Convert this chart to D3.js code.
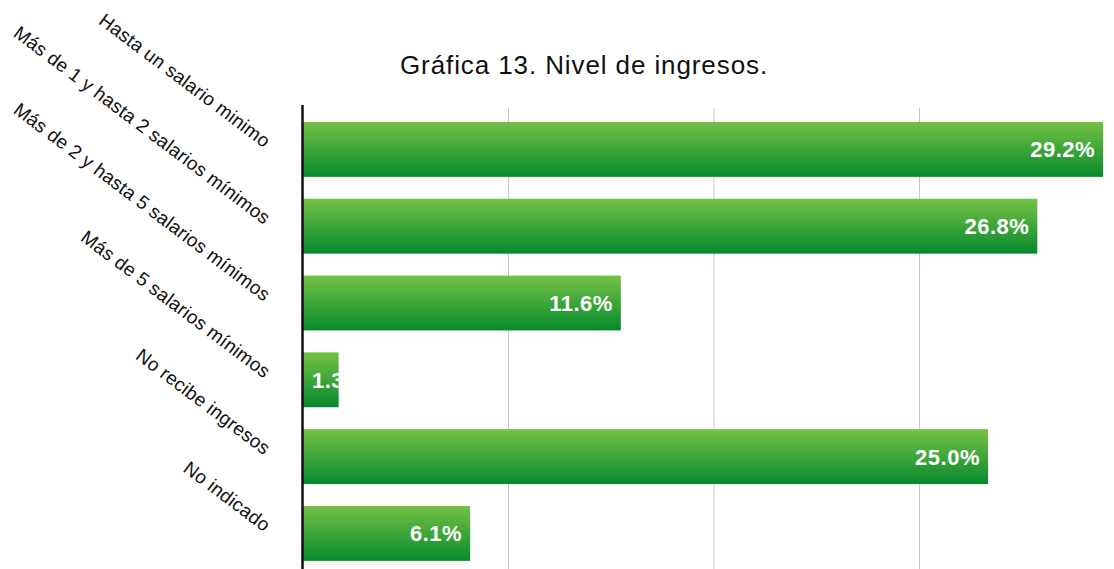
<!DOCTYPE html>
<html>
<head>
<meta charset="utf-8">
<script src="https://cdn.jsdelivr.net/npm/d3@7"></script>
<style>
  body { margin: 0; background: #fff; }
  svg { display: block; font-family: "Liberation Sans", Arial, sans-serif; }
</style>
</head>
<body>
<div id="chart"></div>
<script>
// --- données ---
const categories = [
  "Hasta un salario minimo",
  "Más de 1 y hasta 2 salarios mínimos",
  "Más de 2 y hasta 5 salarios mínimos",
  "Más de 5 salarios mínimos",
  "No recibe ingresos",
  "No indicado"
];
const values = [29.2, 26.8, 11.6, 1.3, 25.0, 6.1];
const gridTicks = [7.5, 15, 22.5];
const title = "Gráfica 13. Nivel de ingresos.";

const width = 1114, height = 569;

const svg = d3.select("#chart")
  .append("svg")
  .attr("width", width)
  .attr("height", height);

// dégradé vert des barres
const grad = svg.append("defs").append("linearGradient")
  .attr("id", "barGrad")
  .attr("x1", 0).attr("y1", 0).attr("x2", 0).attr("y2", 1);
grad.append("stop").attr("offset", "0%").attr("stop-color", "#75c145");
grad.append("stop").attr("offset", "100%").attr("stop-color", "#068a2d");

const x = d3.scaleLinear().domain([0, 30]).range([303, 303 + 30 * 27.4]);
const y = d3.scaleBand()
  .domain(categories)
  .range([111, 111 + 6 * 76.8])
  .paddingInner(0.285)
  .paddingOuter(0.1425);

// titre
svg.append("text")
  .attr("x", 584)
  .attr("y", 74)
  .attr("text-anchor", "middle")
  .style("font-size", "26px")
  .style("letter-spacing", "0.9px")
  .style("fill", "#111")
  .text(title);

// grille
svg.selectAll(".grid")
  .data(gridTicks)
  .enter()
  .append("line")
  .attr("x1", d => x(d)).attr("x2", d => x(d))
  .attr("y1", 108).attr("y2", height)
  .style("stroke", "#c8c8c8")
  .style("stroke-width", 1);

// barres
const bars = svg.selectAll(".bar")
  .data(values)
  .enter()
  .append("g")
  .attr("class", "bar");

bars.append("clipPath")
  .attr("id", (d, i) => "clip" + i)
  .append("rect")
  .attr("x", x(0))
  .attr("y", (d, i) => y(categories[i]))
  .attr("width", d => x(d) - x(0))
  .attr("height", y.bandwidth());

bars.append("rect")
  .attr("x", x(0))
  .attr("y", (d, i) => y(categories[i]))
  .attr("width", d => x(d) - x(0))
  .attr("height", y.bandwidth())
  .attr("fill", "url(#barGrad)");

// étiquettes de valeur (coupées par la barre si trop courte)
const tooShort = d => x(d) - x(0) < 75;
bars.append("text")
  .attr("clip-path", (d, i) => "url(#clip" + i + ")")
  .attr("x", d => tooShort(d) ? x(0) + 9 : x(d) - 8)
  .attr("y", (d, i) => y(categories[i]) + y.bandwidth() / 2 + 8)
  .attr("text-anchor", d => tooShort(d) ? "start" : "end")
  .style("font-size", "22px")
  .style("letter-spacing", "0.5px")
  .style("font-weight", "bold")
  .style("fill", "#fff")
  .text(d => d.toFixed(1) + "%");

// axe vertical
svg.append("line")
  .attr("x1", x(0) - 0.5).attr("x2", x(0) - 0.5)
  .attr("y1", 105).attr("y2", height)
  .style("stroke", "#111")
  .style("stroke-width", 2.5);

// libellés des catégories (inclinés)
svg.selectAll(".cat")
  .data(categories)
  .enter()
  .append("text")
  .attr("text-anchor", "end")
  .attr("transform", d => `translate(264,${y(d) + y.bandwidth() / 2 - 1}) rotate(37)`)
  .style("font-size", "19px")
  .style("letter-spacing", "0.2px")
  .style("fill", "#111")
  .text(d => d);
</script>
</body>
</html>
